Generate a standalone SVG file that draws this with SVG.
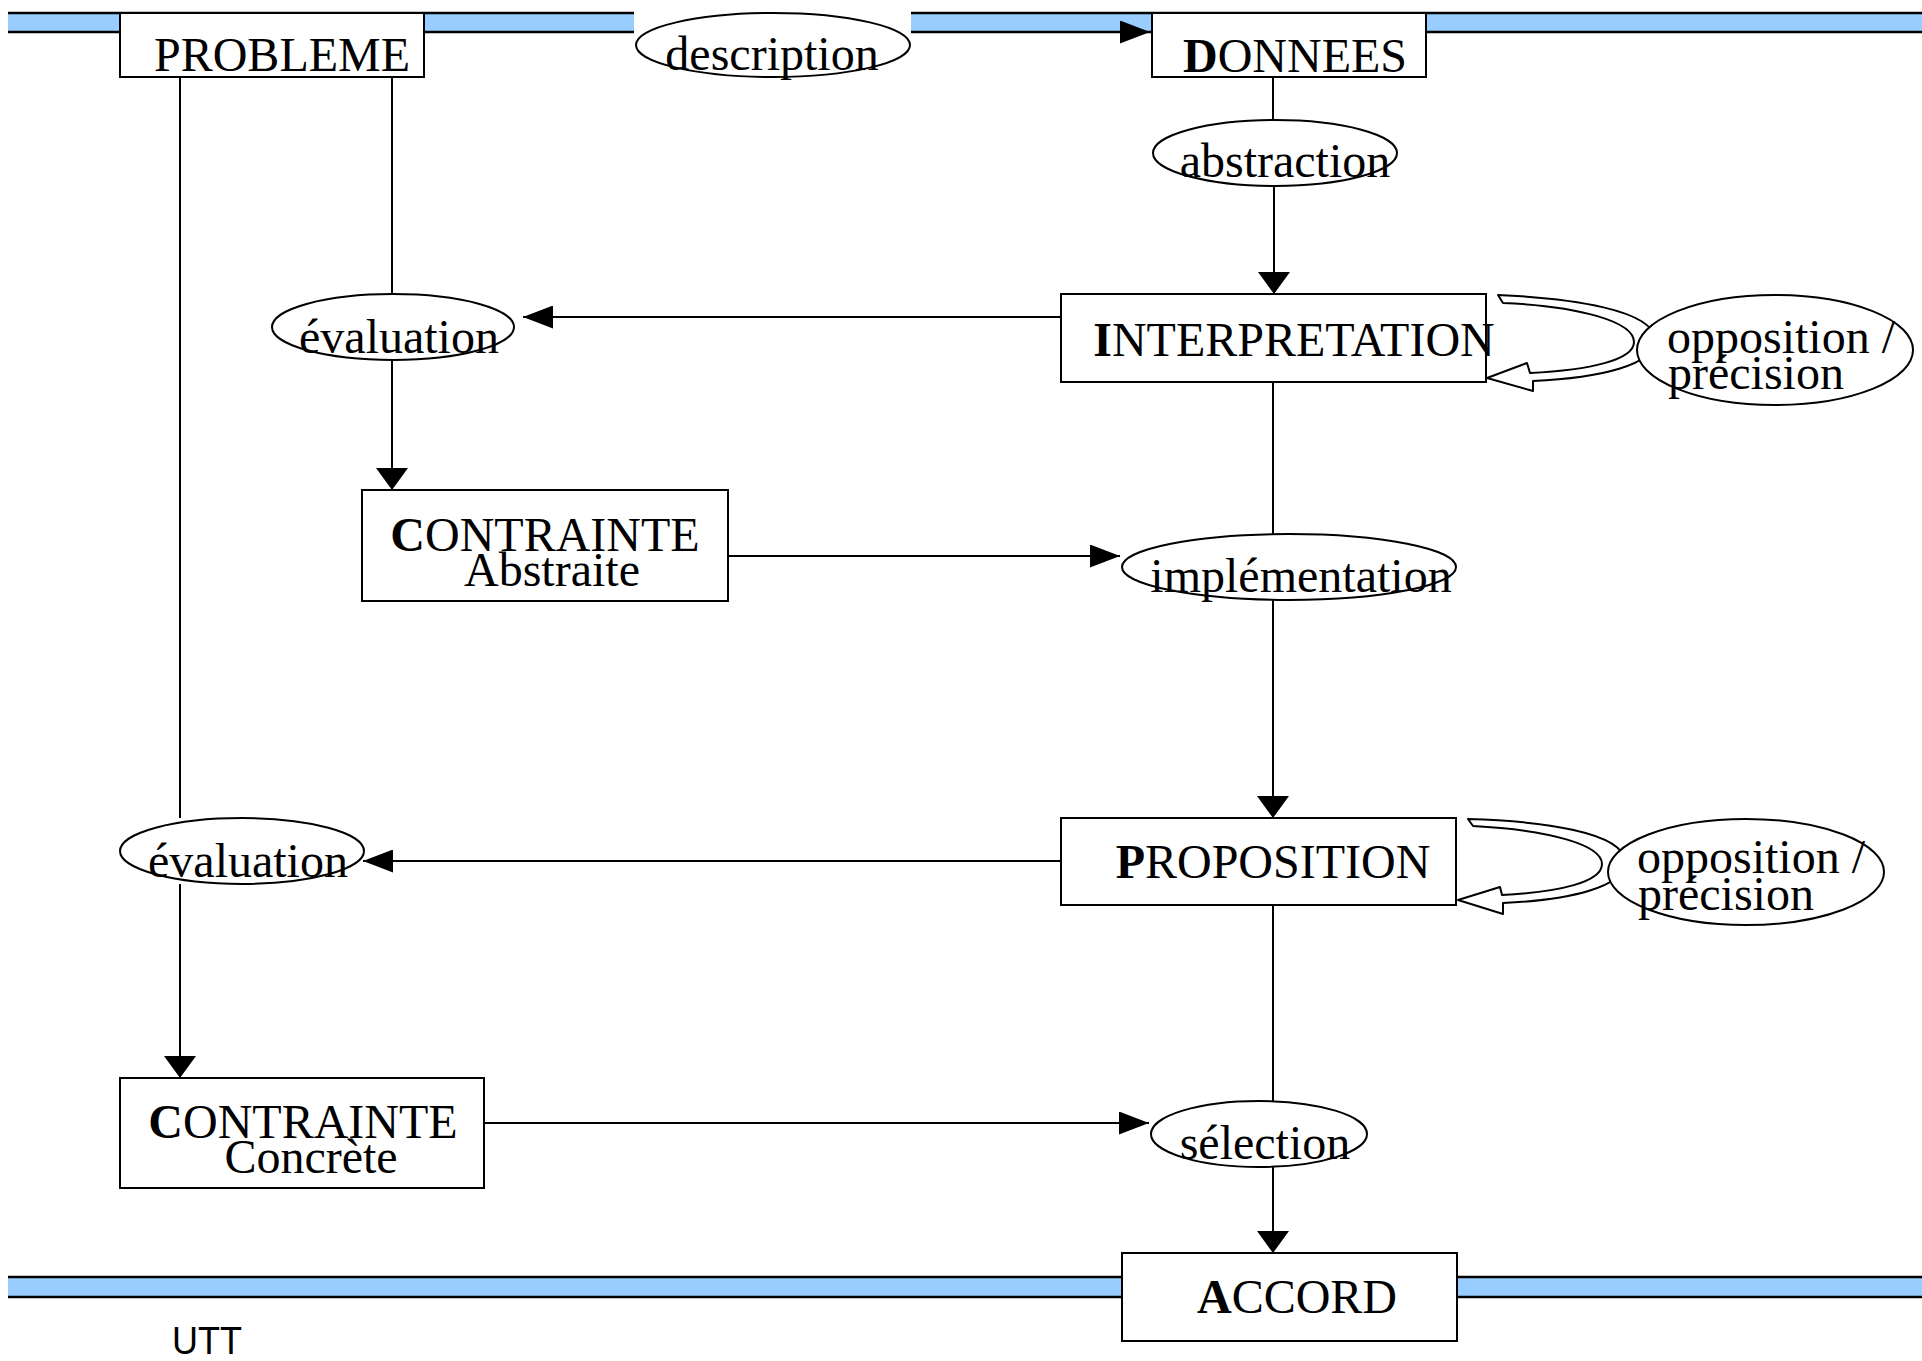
<svg xmlns="http://www.w3.org/2000/svg" width="1922" height="1361" viewBox="0 0 1922 1361">
<style>
.box{fill:#fff;stroke:#000;stroke-width:2}
.ell{fill:#fff;stroke:#000;stroke-width:2}
.t{font-family:"Liberation Serif","Times New Roman",serif;font-size:48px;fill:#000;text-anchor:middle}
.s{text-anchor:start}
.b{font-weight:bold}
.ln{stroke:#000;stroke-width:2;fill:none}
.band{fill:#99ccff}
.bl{stroke:#000;stroke-width:2.5}
.loop{fill:#fff;stroke:#000;stroke-width:2;stroke-linejoin:round}
.utt{font-family:"Liberation Sans",Arial,sans-serif;font-size:38px;fill:#000}
</style>
<defs>
<marker id="ah" markerWidth="31" markerHeight="23" refX="30" refY="11.5" orient="auto" markerUnits="userSpaceOnUse"><path d="M0,0 L30,11.5 L0,23 Z" fill="#000"/></marker>
<marker id="av" markerWidth="23" markerHeight="32" refX="22" refY="16" orient="auto" markerUnits="userSpaceOnUse"><path d="M0,0 L22,16 L0,32 Z" fill="#000"/></marker>
</defs>
<g id="bands">
<rect class="band" x="8" y="13" width="1914" height="19"/>
<line class="bl" x1="8" y1="13" x2="1922" y2="13"/>
<line class="bl" x1="8" y1="32" x2="1922" y2="32"/>
<rect class="band" x="8" y="1277" width="1914" height="20"/>
<line class="bl" x1="8" y1="1277" x2="1922" y2="1277"/>
<line class="bl" x1="8" y1="1297" x2="1922" y2="1297"/>
</g>
<g id="connectors">
<path class="ln" d="M424 32 H1150" marker-end="url(#ah)"/>
<path class="ln" d="M180 77 V818"/>
<path class="ln" d="M180 884 V1078" marker-end="url(#av)"/>
<path class="ln" d="M392 77 V295"/>
<path class="ln" d="M392 360 V490" marker-end="url(#av)"/>
<path class="ln" d="M1273 77 V120"/>
<path class="ln" d="M1274 186 V294" marker-end="url(#av)"/>
<path class="ln" d="M1068 317 H523" marker-end="url(#ah)"/>
<path class="ln" d="M1273 382 V534"/>
<path class="ln" d="M1273 600 V818" marker-end="url(#av)"/>
<path class="ln" d="M728 556 H1120" marker-end="url(#ah)"/>
<path class="ln" d="M1061 861 H363" marker-end="url(#ah)"/>
<path class="ln" d="M1273 905 V1101"/>
<path class="ln" d="M1273 1167 V1253" marker-end="url(#av)"/>
<path class="ln" d="M484 1123 H1149" marker-end="url(#ah)"/>
<path class="loop" d="M1498 295 C1570 298,1655 310,1655 340 C1655 365,1600 378,1533 381 L1533 391 L1487 378 L1527 363 L1530 373 C1590 370,1634 360,1634 342 C1634 322,1580 306,1503 303 Z"/>
<path class="loop" d="M1468 819 C1540 821,1625 832,1625 862 C1625 887,1570 900,1503 903 L1503 914 L1458 900 L1500 887 L1502 895 C1560 892,1602 882,1602 864 C1602 845,1550 830,1473 826 Z"/>
</g>
<g id="probleme">
<rect class="box" x="120" y="13" width="304" height="64"/>
<text class="t" x="282" y="71">PROBLEME</text>
</g>
<g id="description">
<rect x="634" y="11" width="277" height="23" fill="#fff"/>
<ellipse class="ell" cx="773" cy="45" rx="137" ry="32"/>
<text class="t" x="772" y="70">description</text>
</g>
<g id="donnees">
<rect class="box" x="1152" y="13" width="274" height="64"/>
<text class="t" x="1295" y="72"><tspan class="b">D</tspan>ONNEES</text>
</g>
<g id="abstraction">
<ellipse class="ell" cx="1275" cy="153" rx="122" ry="33"/>
<text class="t" x="1285" y="177">abstraction</text>
</g>
<g id="interpretation">
<rect class="box" x="1061" y="294" width="425" height="88"/>
<text class="t" x="1294" y="356"><tspan class="b">I</tspan>NTERPRETATION</text>
</g>
<g id="opposition1">
<ellipse class="ell" cx="1775" cy="350" rx="138" ry="55"/>
<text class="t s" x="1667" y="353">opposition /</text>
<text class="t s" x="1668" y="389">précision</text>
</g>
<g id="evaluation1">
<ellipse class="ell" cx="393" cy="327" rx="121" ry="33"/>
<text class="t" x="399" y="353">évaluation</text>
</g>
<g id="contrainte-abstraite">
<rect class="box" x="362" y="490" width="366" height="111"/>
<text class="t" x="545" y="551"><tspan class="b">C</tspan>ONTRAINTE</text>
<text class="t" x="552" y="586">Abstraite</text>
</g>
<g id="implementation">
<ellipse class="ell" cx="1289" cy="567" rx="167" ry="33"/>
<text class="t" x="1301" y="592">implémentation</text>
</g>
<g id="proposition">
<rect class="box" x="1061" y="818" width="395" height="87"/>
<text class="t" x="1273" y="878"><tspan class="b">P</tspan>ROPOSITION</text>
</g>
<g id="opposition2">
<ellipse class="ell" cx="1746" cy="872" rx="138" ry="53"/>
<text class="t s" x="1637" y="873">opposition /</text>
<text class="t s" x="1638" y="910">précision</text>
</g>
<g id="evaluation2">
<ellipse class="ell" cx="242" cy="851" rx="122" ry="33"/>
<text class="t" x="248" y="877">évaluation</text>
</g>
<g id="contrainte-concrete">
<rect class="box" x="120" y="1078" width="364" height="110"/>
<text class="t" x="303" y="1138"><tspan class="b">C</tspan>ONTRAINTE</text>
<text class="t" x="311" y="1173">Concrète</text>
</g>
<g id="selection">
<ellipse class="ell" cx="1259" cy="1134" rx="108" ry="33"/>
<text class="t" x="1265" y="1159">sélection</text>
</g>
<g id="accord">
<rect class="box" x="1122" y="1253" width="335" height="88"/>
<text class="t" x="1297" y="1313"><tspan class="b">A</tspan>CCORD</text>
</g>
<g id="utt">
<text class="utt" x="172" y="1354" textLength="70" lengthAdjust="spacingAndGlyphs">UTT</text>
</g>
</svg>
